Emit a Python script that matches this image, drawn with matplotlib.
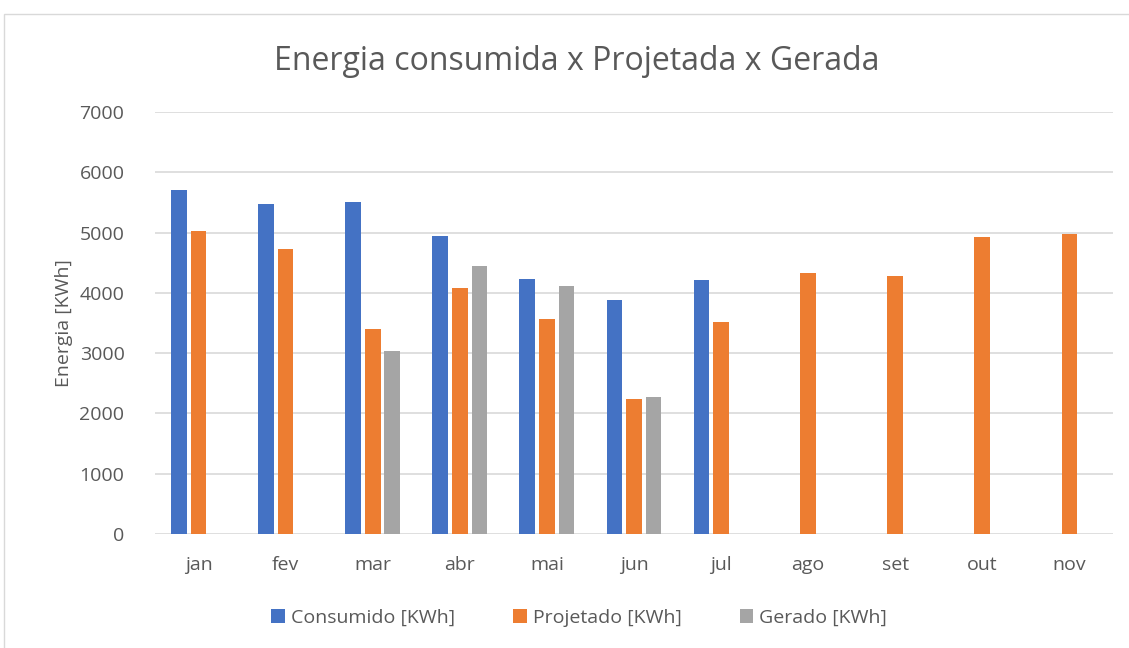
import numpy as np
import matplotlib
matplotlib.use("Agg")
import matplotlib.pyplot as plt
from matplotlib.patches import Rectangle

plt.rcParams['font.family'] = ['Open Sans', 'DejaVu Sans']

meses = ['jan', 'fev', 'mar', 'abr', 'mai', 'jun', 'jul', 'ago', 'set', 'out', 'nov']
consumido = [5710, 5480, 5500, 4945, 4230, 3885, 4215, np.nan, np.nan, np.nan, np.nan]
projetado = [5030, 4730, 3400, 4080, 3565, 2240, 3515, 4330, 4280, 4930, 4975]
gerado = [np.nan, np.nan, 3040, 4445, 4115, 2270, np.nan, np.nan, np.nan, np.nan, np.nan]

series = [('Consumido [KWh]', consumido, '#4472C4'),
          ('Projetado [KWh]', projetado, '#ED7D31'),
          ('Gerado [KWh]', gerado, '#A5A5A5')]

txt = '#595959'
fig = plt.figure(figsize=(11.29, 6.48), dpi=100)
ax = fig.add_axes([0.1373, 0.1759, 0.8485, 0.6513])

x = np.arange(len(meses))
w = 0.18
step = 0.225
for i, (lab, vals, col) in enumerate(series):
    ax.bar(x + (i - 1) * step, vals, width=w, color=col, label=lab, zorder=3)

ax.set_xlim(-0.5, len(meses) - 0.5)
ax.set_ylim(0, 7000)
ax.set_yticks(range(0, 7001, 1000))
ax.set_xticks(x)
ax.set_xticklabels(meses)
ax.grid(axis='y', color='#d9d9d9', linewidth=1.2, zorder=0)
for s in ax.spines.values():
    s.set_visible(False)
ax.tick_params(length=0, labelsize=14, colors=txt)
ax.tick_params(axis='x', pad=16)
ax.tick_params(axis='y', pad=22)
ax.set_ylabel('Energia [KWh]', fontsize=14, color=txt, labelpad=5)

fig.text(0.511, 0.905, 'Energia consumida x Projetada x Gerada', ha='center', va='center',
         fontsize=23, color=txt)

fig.legend(loc='center', bbox_to_anchor=(0.513, 0.047), ncol=3, frameon=False,
           fontsize=14, labelcolor=txt, handlelength=0.7, handleheight=0.7,
           handletextpad=0.3, columnspacing=3.0)

fig.patches.append(Rectangle((4 / 1129, -0.01), 1.0, (648 - 14) / 648 + 0.01,
                             transform=fig.transFigure, fill=False,
                             edgecolor='#d9d9d9', linewidth=1))

plt.savefig('out.png', dpi=100)
